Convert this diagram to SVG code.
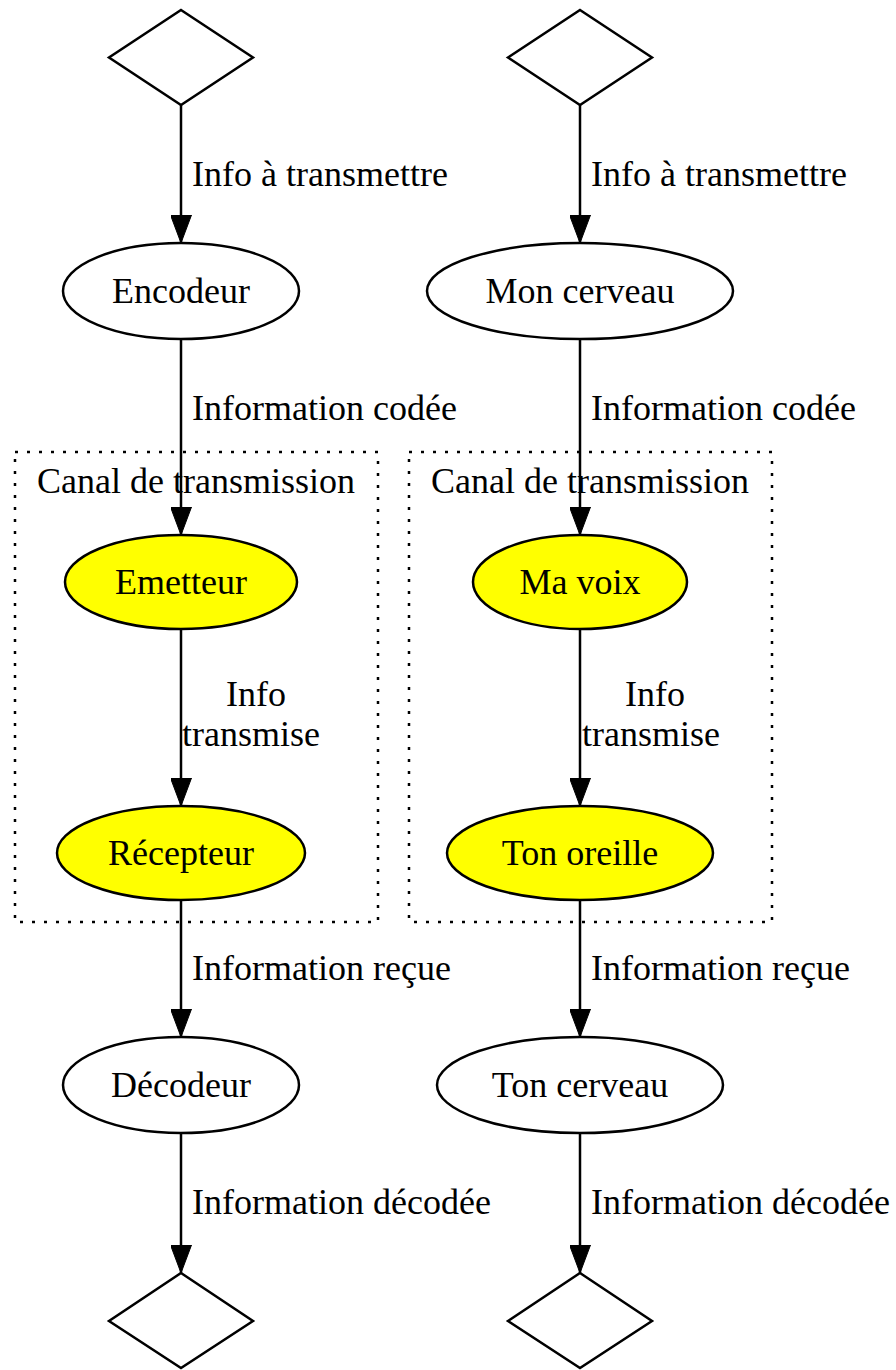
<svg xmlns="http://www.w3.org/2000/svg" width="896" height="1370" viewBox="0 0 896 1370">
<defs>
<style>
text{font-family:"Liberation Serif","Times New Roman",serif;font-size:36px;fill:#000}
.n{stroke:#000;stroke-width:2.5;fill:none}
.y{fill:#ffff00}
.c{fill:none;stroke:#000;stroke-width:2.5;stroke-dasharray:3,9}
.e{stroke:#000;stroke-width:2.5;fill:none}
.m{text-anchor:middle}
</style>
<marker id="a" viewBox="0 0 28 21" refX="28" refY="10.5" markerWidth="28" markerHeight="21" markerUnits="userSpaceOnUse" orient="auto">
<path d="M0,0 L28,10.5 L0,21 Z" fill="#000" stroke="#000" stroke-width="1"/>
</marker>
</defs>
<rect width="896" height="1370" fill="#fff"/>
<g id="cluster_left"><rect class="c" x="15" y="452" width="363" height="470"/><text class="m" x="196" y="493">Canal de transmission</text></g>
<g id="cluster_right"><rect class="c" x="409" y="452" width="363" height="470"/><text class="m" x="590" y="493">Canal de transmission</text></g>
<g id="edges">
<path class="e" d="M181,105 V243" marker-end="url(#a)"/>
<path class="e" d="M181,339 V535" marker-end="url(#a)"/>
<path class="e" d="M181,629 V806" marker-end="url(#a)"/>
<path class="e" d="M181,900 V1037" marker-end="url(#a)"/>
<path class="e" d="M181,1133 V1273" marker-end="url(#a)"/>
<path class="e" d="M580,105 V243" marker-end="url(#a)"/>
<path class="e" d="M580,339 V535" marker-end="url(#a)"/>
<path class="e" d="M580,629 V806" marker-end="url(#a)"/>
<path class="e" d="M580,900 V1037" marker-end="url(#a)"/>
<path class="e" d="M580,1133 V1273" marker-end="url(#a)"/>
<text x="192" y="186">Info à transmettre</text>
<text x="192" y="420">Information codée</text>
<text class="m" x="256" y="706">Info</text>
<text class="m" x="251" y="746">transmise</text>
<text x="192" y="980">Information reçue</text>
<text x="192" y="1214">Information décodée</text>
<text x="591" y="186">Info à transmettre</text>
<text x="591" y="420">Information codée</text>
<text class="m" x="655" y="706">Info</text>
<text class="m" x="651" y="746">transmise</text>
<text x="591" y="980">Information reçue</text>
<text x="591" y="1214">Information décodée</text>
</g>
<g id="start1"><polygon class="n" points="181,10 253,57.5 181,105 109,57.5"/></g>
<g id="start2"><polygon class="n" points="580,10 652,57.5 580,105 508,57.5"/></g>
<g id="encodeur"><ellipse class="n" cx="181" cy="291" rx="118" ry="48"/><text class="m" x="181" y="303">Encodeur</text></g>
<g id="moncerveau"><ellipse class="n" cx="580" cy="291" rx="153" ry="48"/><text class="m" x="580" y="303">Mon cerveau</text></g>
<g id="emetteur"><ellipse class="n y" cx="181" cy="582" rx="116" ry="47"/><text class="m" x="181" y="594">Emetteur</text></g>
<g id="mavoix"><ellipse class="n y" cx="580" cy="582" rx="107" ry="47"/><text class="m" x="580" y="594">Ma voix</text></g>
<g id="recepteur"><ellipse class="n y" cx="181" cy="853" rx="124" ry="47"/><text class="m" x="181" y="865">Récepteur</text></g>
<g id="tonoreille"><ellipse class="n y" cx="580" cy="853" rx="133" ry="47"/><text class="m" x="580" y="865">Ton oreille</text></g>
<g id="decodeur"><ellipse class="n" cx="181" cy="1085" rx="118" ry="48"/><text class="m" x="181" y="1097">Décodeur</text></g>
<g id="toncerveau"><ellipse class="n" cx="580" cy="1085" rx="143" ry="48"/><text class="m" x="580" y="1097">Ton cerveau</text></g>
<g id="end1"><polygon class="n" points="181,1273 253,1321 181,1368 109,1321"/></g>
<g id="end2"><polygon class="n" points="580,1273 652,1321 580,1368 508,1321"/></g>
</svg>
